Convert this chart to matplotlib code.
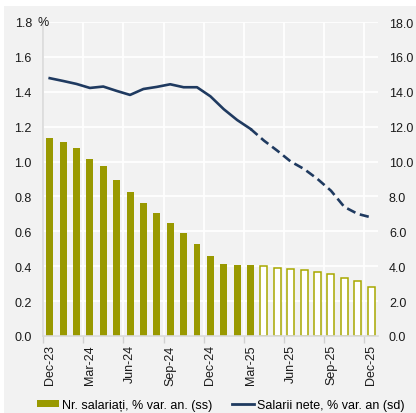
import numpy as np
import matplotlib.pyplot as plt
from matplotlib.patches import Patch, Rectangle
from matplotlib.lines import Line2D

plt.rcParams['font.family'] = ['Liberation Sans', 'DejaVu Sans']

# luni Dec-23 .. Dec-25
months = ['Dec-23', 'Jan-24', 'Feb-24', 'Mar-24', 'Apr-24', 'May-24', 'Jun-24',
          'Jul-24', 'Aug-24', 'Sep-24', 'Oct-24', 'Nov-24', 'Dec-24', 'Jan-25',
          'Feb-25', 'Mar-25', 'Apr-25', 'May-25', 'Jun-25', 'Jul-25', 'Aug-25',
          'Sep-25', 'Oct-25', 'Nov-25', 'Dec-25']
# Nr. salariati, % var. an. (ss)
employees = [1.134, 1.11, 1.078, 1.013, 0.973, 0.894, 0.826, 0.761, 0.707, 0.648,
             0.591, 0.529, 0.458, 0.413, 0.405, 0.409, 0.400, 0.390, 0.384,
             0.378, 0.367, 0.354, 0.333, 0.314, 0.283]
# Salarii nete, % var. an (sd)
wages = [14.78, 14.62, 14.45, 14.22, 14.30, 14.05, 13.82, 14.16, 14.28, 14.43,
         14.26, 14.26, 13.74, 13.0, 12.38, 11.87, 11.2, 10.62, 10.0, 9.57,
         9.0, 8.33, 7.4, 7.0, 6.8]
n_actual = 16  # date realizate pana la Mar-25, restul prognoza

olive = '#999900'
navy = '#1f3a60'
bg = '#f2f2f2'

fig = plt.figure(figsize=(4.16, 4.14), dpi=100, facecolor='white')
fig.patches.append(Rectangle((4 / 416, 0), 1, (414 - 7) / 414, transform=fig.transFigure,
                             facecolor=bg, edgecolor='none', zorder=-10))

ax = fig.add_axes([43 / 416, 77 / 414, (377.8 - 43) / 416, (337 - 23) / 414])
ax.set_facecolor(bg)
x = np.arange(len(months))

ax.bar(x[:n_actual], employees[:n_actual], width=0.52, color=olive, zorder=2)
ax.bar(x[n_actual:], employees[n_actual:], width=0.52, facecolor='white',
       edgecolor='#a8a800', linewidth=1.1, zorder=2)

ax.set_xlim(-0.5, len(months) - 0.5)
ax.set_ylim(0, 1.8)
ax.set_yticks(np.arange(0, 1.81, 0.2))
ax.set_yticklabels([f'{v:.1f}' for v in np.arange(0, 1.81, 0.2)])
ax.set_xticks(x[::3])
ax.set_xticklabels(months[::3], rotation=90)
ax.set_xticks(np.arange(-0.5, len(months), 3), minor=True)
ax.tick_params(axis='x', which='major', length=0, pad=6, labelsize=9, colors='#1a1a1a')
ax.tick_params(axis='x', which='minor', length=5, color='#d0d0d0', width=1)
ax.tick_params(axis='y', length=0, pad=8, labelsize=9, colors='#1a1a1a')
ax.grid(axis='y', color='white', linewidth=1.3)
ax.grid(axis='x', which='minor', color='white', linewidth=1.3)
ax.set_axisbelow(True)
for s in ['top', 'right']:
    ax.spines[s].set_visible(False)
for s in ['left', 'bottom']:
    ax.spines[s].set_color('#d9d9d9')
    ax.spines[s].set_linewidth(1.2)
ax.text(-0.015, 1.8, '%', transform=ax.get_yaxis_transform(), fontsize=9,
        color='#1a1a1a', ha='left', va='center')

ax2 = ax.twinx()
ax2.plot(x[:n_actual], wages[:n_actual], color=navy, linewidth=1.9, zorder=3)
ax2.plot(x[n_actual - 1:], wages[n_actual - 1:], color=navy, linewidth=1.9,
         dashes=(3.5, 1.8), zorder=3)
ax2.set_ylim(0, 18)
ax2.set_yticks(np.arange(0, 18.1, 2))
ax2.set_yticklabels([f'{v:.1f}' for v in np.arange(0, 18.1, 2)])
ax2.tick_params(axis='y', length=0, pad=8, labelsize=9, colors='#1a1a1a')
for s in ax2.spines.values():
    s.set_visible(False)

handles = [Patch(facecolor=olive, edgecolor='none'),
           Line2D([], [], color=navy, linewidth=2)]
labels = ['Nr. salariați, % var. an. (ss)', 'Salarii nete, % var. an (sd)']
fig.legend(handles, labels, loc='center', bbox_to_anchor=(0.53, 8 / 414), ncol=2,
           frameon=False, fontsize=9, handlelength=1.8, handleheight=0.5,
           handletextpad=0.2, columnspacing=1.6)

fig.savefig('out.png', dpi=100, facecolor=fig.get_facecolor())
